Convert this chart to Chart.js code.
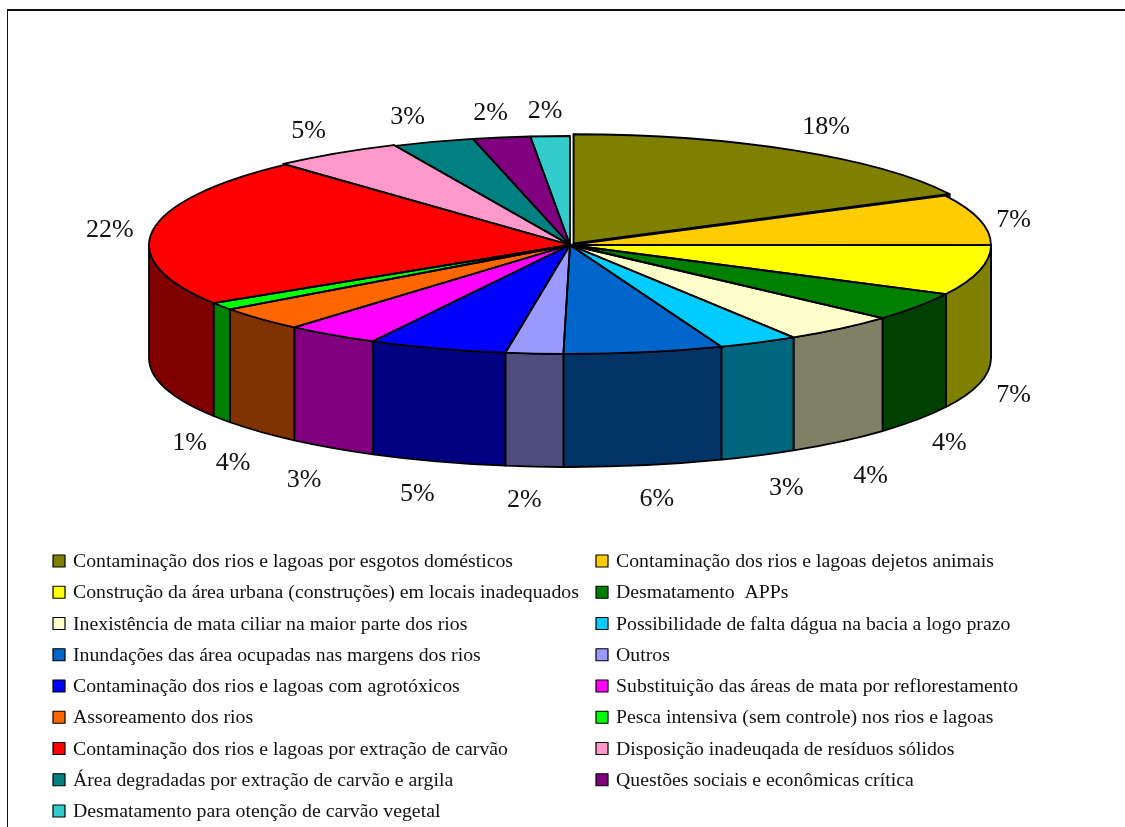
<!DOCTYPE html>
<html lang="pt">
<head>
<meta charset="utf-8">
<style>
html,body{margin:0;padding:0;background:#fff;overflow:hidden}
#wrap{position:relative;width:1125px;height:827px}
#frame{position:absolute;left:7px;top:9px;right:0;bottom:0;border-left:1.5px solid #111;border-top:2px solid #111;pointer-events:none}
</style>
<script src="https://cdn.jsdelivr.net/npm/chart.js@4/dist/chart.umd.min.js"></script>
</head>
<body>
<div id="wrap"><canvas id="c" width="1125" height="827"></canvas><div id="frame"></div></div>
<script>
const categories = [
  "Contaminação dos rios e lagoas por esgotos domésticos",
  "Contaminação dos rios e lagoas dejetos animais",
  "Construção da área urbana (construções) em locais inadequados",
  "Desmatamento  APPs",
  "Inexistência de mata ciliar na maior parte dos rios",
  "Possibilidade de falta dágua na bacia a logo prazo",
  "Inundações das área ocupadas nas margens dos rios",
  "Outros",
  "Contaminação dos rios e lagoas com agrotóxicos",
  "Substituição das áreas de mata por reflorestamento",
  "Assoreamento dos rios",
  "Pesca intensiva (sem controle) nos rios e lagoas",
  "Contaminação dos rios e lagoas por extração de carvão",
  "Disposição inadeuqada de resíduos sólidos",
  "Área degradadas por extração de carvão e argila",
  "Questões sociais e econômicas crítica",
  "Desmatamento para otenção de carvão vegetal"
];
const values = [17.5,7.5,7.4,4.25,4.4,3.05,6.1,2.2,5.3,3.6,3.6,1.1,22.1,5,3.1,2.2,1.5];
const valueLabels = ["18%","7%","7%","4%","4%","3%","6%","2%","5%","3%","4%","1%","22%","5%","3%","2%","2%"];
const colors = ["#808000","#FFCC00","#FFFF00","#008000","#FFFFCC","#00CCFF","#0066CC","#9999FF","#0000FF","#FF00FF","#FF6600","#00FF00","#FF0000","#FF99CC","#008080","#800080","#33CCCC"];
const explode = [28,0,0,0,0,0,0,0,0,0,0,0,0,8,0,0,0];
const labelShift = [[36,-25],[34,0],[34,12],[32,24],[30,35],[28,33],[13,34],[-10,34],[-20,33],[-28,32],[-27,31],[-32,24],[-43,0],[-29,-23],[-26,-25],[-11,-24],[-5,-25]];

const TILT = 109/421, DEPTH = 113, LINE = 1.8;
const SERIF = '"Liberation Serif","Times New Roman",serif';

function dark(hex){
  const n = parseInt(hex.slice(1),16);
  const h = v => Math.round(v/2).toString(16).padStart(2,'0');
  return '#'+h(n>>16&255)+h(n>>8&255)+h(n&255);
}
function geom(arc){
  const off = (arc.options.offset||0)/4;
  const mid = (arc.startAngle+arc.endAngle)/2;
  const fix = 1-Math.sin(Math.min(Math.PI,arc.circumference||0));
  const r = arc.outerRadius+off*fix;
  return {x:arc.x+Math.cos(mid)*off, y:arc.y+Math.sin(mid)*off*TILT, r, a:arc.startAngle, b:arc.endAngle};
}
const pie3d = {
  id:'pie3d',
  beforeDatasetDraw(chart){
    const ctx = chart.ctx, arcs = chart.getDatasetMeta(0).data;
    ctx.save();
    ctx.lineWidth = LINE; ctx.strokeStyle = '#000'; ctx.lineJoin='round';
    // cut faces of the pulled-out slices
    arcs.forEach((arc,i)=>{
      if(!explode[i]) return;
      const g = geom(arc);
      [g.a,g.b].forEach(t=>{
        const ex=g.x+g.r*Math.cos(t), ey=g.y+g.r*TILT*Math.sin(t);
        ctx.beginPath();
        ctx.moveTo(g.x,g.y); ctx.lineTo(ex,ey); ctx.lineTo(ex,ey+DEPTH); ctx.lineTo(g.x,g.y+DEPTH); ctx.closePath();
        ctx.fillStyle = dark(colors[i]); ctx.fill(); ctx.stroke();
      });
    });
    // outer walls, visible only on the front half
    arcs.forEach((arc,i)=>{
      const g = geom(arc);
      const a = Math.max(g.a,0), b = Math.min(g.b,Math.PI);
      if(b<=a) return;
      ctx.beginPath();
      ctx.ellipse(g.x,g.y,g.r,g.r*TILT,0,a,b,false);
      ctx.ellipse(g.x,g.y+DEPTH,g.r,g.r*TILT,0,b,a,true);
      ctx.closePath();
      ctx.fillStyle = dark(colors[i]); ctx.fill(); ctx.stroke();
    });
    ctx.restore();
    // the library draws the top faces through a flattened transform
    const o = arcs[0];
    ctx.save();
    ctx.translate(o.x,o.y); ctx.scale(1,TILT); ctx.translate(-o.x,-o.y);
  },
  afterDatasetDraw(chart){
    const ctx = chart.ctx, arcs = chart.getDatasetMeta(0).data;
    ctx.restore();
    ctx.save();
    ctx.lineWidth = LINE; ctx.strokeStyle = '#000'; ctx.lineJoin='round';
    arcs.forEach(arc=>{
      const g = geom(arc);
      ctx.beginPath();
      ctx.moveTo(g.x,g.y);
      ctx.ellipse(g.x,g.y,g.r,g.r*TILT,0,g.a,g.b,false);
      ctx.closePath();
      ctx.stroke();
    });
    // value labels
    ctx.fillStyle='#111'; ctx.font='26px '+SERIF; ctx.textAlign='center'; ctx.textBaseline='middle';
    arcs.forEach((arc,i)=>{
      const g = geom(arc), t=(g.a+g.b)/2;
      const front = Math.sin(t)>0;
      const x = arc.x+arc.outerRadius*Math.cos(t)+labelShift[i][0];
      const y = arc.y+arc.outerRadius*TILT*Math.sin(t)+(front?DEPTH:0)+labelShift[i][1];
      ctx.fillText(valueLabels[i],x,y);
    });
    // legend, two columns read row by row
    ctx.font='19.8px '+SERIF; ctx.textAlign='left'; ctx.textBaseline='middle';
    categories.forEach((name,i)=>{
      const col=i%2, row=Math.floor(i/2);
      const sx=col?596:53, y=561+row*31.25;
      ctx.fillStyle=colors[i]; ctx.fillRect(sx,y-6,12,12);
      ctx.lineWidth=1.2; ctx.strokeStyle='#000'; ctx.strokeRect(sx,y-6,12,12);
      ctx.fillStyle='#111'; ctx.fillText(name,sx+20,y+1);
    });
    ctx.restore();
  }
};
new Chart(document.getElementById('c'),{
  type:'pie',
  data:{labels:categories,datasets:[{data:values,backgroundColor:colors,borderWidth:0,offset:explode,radius:421}]},
  options:{
    responsive:false,animation:false,
    layout:{padding:{left:15,top:0,right:0,bottom:337}},
    plugins:{legend:{display:false},tooltip:{enabled:false}}
  },
  plugins:[pie3d]
});
</script>
</body>
</html>
